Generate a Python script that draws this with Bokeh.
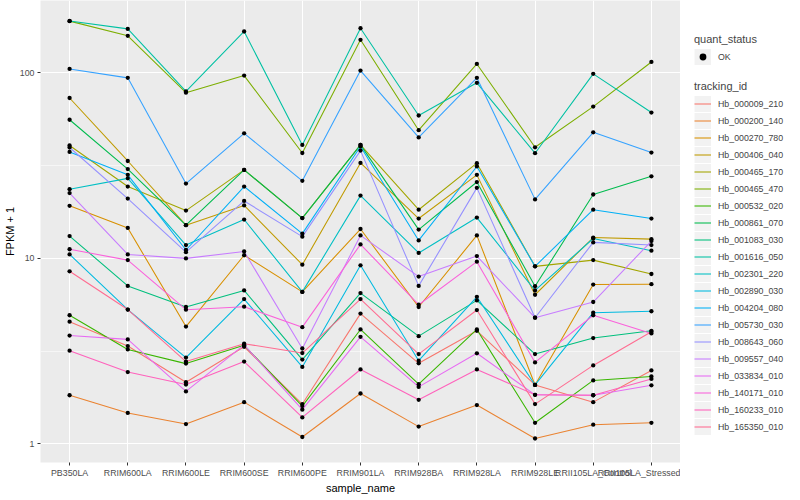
from bokeh.plotting import figure
from bokeh.layouts import row
from bokeh.models import ColumnDataSource, Legend, LegendItem, FixedTicker, Range1d, NumeralTickFormatter
from bokeh.embed import file_html
from bokeh.resources import INLINE

samples = ["PB350LA", "RRIM600LA", "RRIM600LE", "RRIM600SE", "RRIM600PE", "RRIM901LA",
           "RRIM928BA", "RRIM928LA", "RRIM928LE", "RRII105LA_Control", "RRII105LA_Stressed"]

tracking_ids = ["Hb_000009_210", "Hb_000200_140", "Hb_000270_780", "Hb_000406_040", "Hb_000465_170",
                "Hb_000465_470", "Hb_000532_020", "Hb_000861_070", "Hb_001083_030", "Hb_001616_050",
                "Hb_002301_220", "Hb_002890_030", "Hb_004204_080", "Hb_005730_030", "Hb_008643_060",
                "Hb_009557_040", "Hb_033834_010", "Hb_140171_010", "Hb_160233_010", "Hb_165350_010"]

colors = ["#F8766D", "#EA8331", "#D89000", "#C09B00", "#A3A500", "#7CAE00", "#39B600", "#00BB4E",
          "#00BF7D", "#00C1A3", "#00BFC4", "#00BAE0", "#00B0F6", "#35A2FF", "#9590FF", "#C77CFF",
          "#E76BF3", "#FA62DB", "#FF62BC", "#FF6C91"]

# FPKM + 1 per sample, one list per tracking_id
Hb_000009_210 = [4.56, 3.37, 2.15, 3.34, 1.64, 5.04, 2.72, 4.07, 2.08, 1.68, 2.49]
Hb_000200_140 = [1.83, 1.47, 1.28, 1.68, 1.09, 1.87, 1.24, 1.62, 1.07, 1.27, 1.30]
Hb_000270_780 = [19.2, 14.6, 4.29, 10.4, 6.60, 14.4, 5.47, 13.3, 2.08, 7.23, 7.26]
Hb_000406_040 = [73.2, 33.5, 15.1, 19.3, 9.25, 32.7, 16.4, 28.2, 6.37, 12.95, 12.7]
Hb_000465_170 = [40.6, 24.4, 18.1, 30.0, 16.5, 40.9, 18.3, 32.6, 9.06, 9.79, 8.24]
Hb_000465_470 = [190.0, 158.3, 78.2, 96.7, 37.0, 150.7, 49.1, 111.7, 39.7, 65.8, 114.5]
Hb_000532_020 = [4.94, 3.23, 2.71, 3.40, 1.60, 4.14, 2.10, 4.14, 1.30, 2.20, 2.31]
Hb_000861_070 = [55.9, 30.3, 15.1, 30.0, 16.5, 40.9, 14.3, 25.8, 7.08, 22.1, 27.7]
Hb_001083_030 = [13.2, 7.11, 5.47, 6.72, 2.85, 6.50, 3.81, 5.94, 3.05, 3.72, 4.07]
Hb_001616_050 = [190.4, 172.6, 79.4, 167.1, 40.9, 174.0, 58.9, 88.4, 36.9, 98.8, 61.1]
Hb_002301_220 = [23.6, 27.0, 11.8, 16.2, 6.60, 21.8, 10.7, 16.6, 6.72, 12.8, 11.0]
Hb_002890_030 = [10.5, 5.30, 2.92, 6.04, 2.60, 9.18, 2.81, 6.21, 2.08, 5.10, 5.19]
Hb_004204_080 = [37.5, 28.2, 11.1, 24.4, 13.6, 40.1, 12.5, 31.3, 9.06, 18.3, 16.4]
Hb_005730_030 = [105.0, 94.0, 25.3, 47.2, 26.2, 102.9, 44.9, 94.0, 20.8, 47.8, 37.2]
Hb_008643_060 = [39.6, 21.0, 10.8, 20.4, 13.1, 38.1, 7.11, 24.0, 4.79, 12.2, 11.8]
Hb_009557_040 = [22.5, 10.5, 10.0, 10.9, 3.27, 13.3, 7.98, 10.3, 4.79, 5.82, 12.4]
Hb_033834_010 = [3.84, 3.66, 1.92, 3.42, 1.53, 3.78, 2.03, 3.08, 1.84, 1.83, 2.07]
Hb_140171_010 = [11.2, 9.79, 5.29, 5.49, 4.26, 11.9, 5.63, 9.60, 2.75, 4.94, 3.94]
Hb_160233_010 = [3.18, 2.44, 2.09, 2.78, 1.39, 2.52, 1.73, 2.52, 1.84, 1.83, 2.24]
Hb_165350_010 = [8.52, 5.30, 2.78, 3.47, 3.09, 6.04, 3.05, 5.27, 1.64, 2.65, 4.02]

series = [Hb_000009_210, Hb_000200_140, Hb_000270_780, Hb_000406_040, Hb_000465_170,
          Hb_000465_470, Hb_000532_020, Hb_000861_070, Hb_001083_030, Hb_001616_050,
          Hb_002301_220, Hb_002890_030, Hb_004204_080, Hb_005730_030, Hb_008643_060,
          Hb_009557_040, Hb_033834_010, Hb_140171_010, Hb_160233_010, Hb_165350_010]

status_labels = ["OK"]

yticks = [1, 10, 100]
yminor = [10 ** 0.5, 10 ** 1.5]

FONT = "Liberation Sans"

p = figure(x_range=samples, y_axis_type="log", y_range=Range1d(10 ** -0.1, 10 ** 2.39),
           frame_width=640, frame_height=462, min_border_left=32, min_border_right=0,
           min_border_top=0, min_border_bottom=10,
           output_backend="svg", toolbar_location=None)
p.background_fill_color = "#EBEBEB"
p.border_fill_color = "white"
p.outline_line_color = None

p.xgrid.grid_line_color = "white"
p.xgrid.grid_line_width = 1.1
p.ygrid.grid_line_color = "white"
p.ygrid.grid_line_width = 1.1
p.ygrid.minor_grid_line_color = "white"
p.ygrid.minor_grid_line_width = 0.55

p.yaxis.ticker = FixedTicker(ticks=yticks, minor_ticks=yminor)
p.yaxis.formatter = NumeralTickFormatter(format="0")

for ax in (p.xaxis, p.yaxis):
    ax.axis_line_color = None
    ax.major_tick_line_color = "#333333"
    ax.major_tick_out = 3
    ax.major_tick_in = 0
    ax.minor_tick_line_color = None
    ax.major_label_text_font = FONT
    ax.major_label_text_font_size = "8.8px"
    ax.major_label_text_color = "#4D4D4D"
    ax.major_label_standoff = 2
    ax.axis_label_text_font = FONT
    ax.axis_label_text_font_size = "11px"
    ax.axis_label_text_font_style = "normal"
    ax.axis_label_text_color = "black"
    ax.axis_label_standoff = 1

p.xaxis.axis_label = "sample_name"
p.yaxis.axis_label = "FPKM + 1"

for col, vals in zip(colors, series):
    src = ColumnDataSource(dict(x=samples, y=vals))
    p.line("x", "y", source=src, line_color=col, line_width=1.07)

for vals in series:
    src = ColumnDataSource(dict(x=samples, y=vals))
    p.scatter("x", "y", source=src, size=4.3, fill_color="black", line_color=None)

# legend panel: a separate figure holding both legends (its own off-range key renderers)
H = 486
lf = figure(width=110, height=H, x_range=Range1d(0, 1), y_range=Range1d(0, 1),
            x_axis_type=None, y_axis_type=None, min_border=0,
            output_backend="svg", toolbar_location=None)
lf.outline_line_color = None
lf.background_fill_color = "white"
lf.border_fill_color = "white"
lf.grid.visible = False

off = [-10.0, -9.0]
key_bg = lf.line(x=off, y=off, line_color="#F2F2F2", line_width=16)
key_pt = lf.scatter(x=off, y=off, size=4, fill_color="black", line_color=None)
items = []
for tid, col in zip(tracking_ids, colors):
    r = lf.line(x=off, y=off, line_color=col, line_width=1.07)
    items.append(LegendItem(label=tid, renderers=[key_bg, r]))

def style(leg, title):
    leg.title = title
    leg.title_text_font = FONT
    leg.title_text_font_size = "11px"
    leg.title_text_font_style = "normal"
    leg.title_standoff = 3
    leg.label_text_font = FONT
    leg.label_text_font_size = "8.8px"
    leg.glyph_width = 17
    leg.glyph_height = 17
    leg.label_height = 17
    leg.label_standoff = 7
    leg.spacing = 0
    leg.padding = 0
    leg.margin = 0
    leg.border_line_color = None
    leg.background_fill_alpha = 0

leg1 = Legend(items=[LegendItem(label=status_labels[0], renderers=[key_bg, key_pt])], location=(14, H - 99))
style(leg1, "quant_status")
leg2 = Legend(items=items, location=(14, H - 469))
style(leg2, "tracking_id")
lf.add_layout(leg1, "center")
lf.add_layout(leg2, "center")

layout = row(p, lf)
open("out.html", "w").write(file_html(layout, INLINE))
